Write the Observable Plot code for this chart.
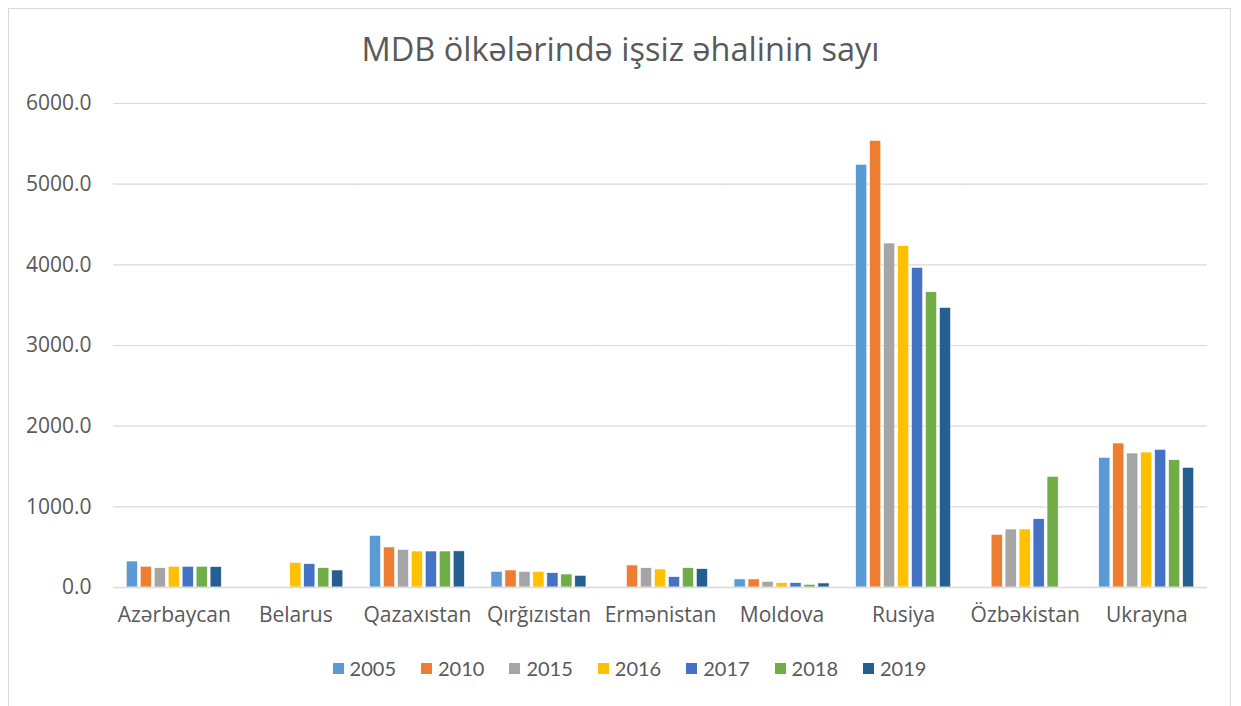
<!DOCTYPE html>
<html>
<head>
<meta charset="utf-8">
<script src="https://cdn.jsdelivr.net/npm/d3@7"></script>
<script src="https://cdn.jsdelivr.net/npm/@observablehq/plot@0.6"></script>
<style>
  html, body { margin: 0; padding: 0; background: #fff; width: 1241px; height: 706px; overflow: hidden; }
  #frame { position: absolute; left: 8px; top: 8px; width: 1223px; height: 720px; border: 1px solid #d9d9d9; box-sizing: border-box; }
  #title { position: absolute; left: 0; width: 1241px; top: 28px; line-height: 42px; text-align: center; font-family: "Open Sans", Lato, sans-serif; font-size: 32.5px; color: #595959; }
  #chart { position: absolute; left: 0; top: 80px; }
  #legend { position: absolute; left: 0; width: 1241px; top: 656px; display: flex; justify-content: center; gap: 25px; font-family: Lato, sans-serif; font-size: 20px; color: #595959; padding-left: 18px; box-sizing: border-box; }
  #legend .item { display: flex; align-items: center; gap: 6px; }
  #legend .sw { width: 11px; height: 11px; display: inline-block; }
</style>
</head>
<body>
<div id="frame"></div>
<div id="title">MDB ölkələrində işsiz əhalinin sayı</div>
<div id="chart"></div>
<div id="legend"></div>
<script>
const countries = ["Azərbaycan", "Belarus", "Qazaxıstan", "Qırğızıstan", "Ermənistan", "Moldova", "Rusiya", "Özbəkistan", "Ukrayna"];
const years = ["2005", "2010", "2015", "2016", "2017", "2018", "2019"];
const colors = ["#5B9BD5", "#ED7D31", "#A5A5A5", "#FFC000", "#4472C4", "#70AD47", "#255E91"];
// values per country, in the order of years (null = no data)
const v2005 = [322, null, 640, 194, null, 100, 5240, null, 1607];
const v2010 = [257, null, 496, 211, 273, 100, 5537, 653, 1785];
const v2015 = [240, null, 467, 194, 240, 70, 4264, 719, 1661];
const v2016 = [257, 306, 446, 194, 223, 54, 4231, 719, 1673];
const v2017 = [257, 289, 446, 178, 128, 54, 3962, 847, 1707];
const v2018 = [257, 240, 446, 161, 240, 33, 3660, 1372, 1578];
const v2019 = [253, 211, 448, 145, 228, 50, 3466, null, 1484];
const yTicks = [0, 1000, 2000, 3000, 4000, 5000, 6000];

const series = [v2005, v2010, v2015, v2016, v2017, v2018, v2019];
const data = [];
countries.forEach((c, i) => {
  years.forEach((y, j) => {
    const v = series[j][i];
    if (v != null) data.push({country: c, year: y, value: v});
  });
});

const chart = Plot.plot({
  width: 1241,
  height: 560,
  marginTop: 23,
  marginBottom: 53,
  marginLeft: 113,
  marginRight: 34,
  style: {fontFamily: "'Open Sans', sans-serif", fontSize: "21px", color: "#595959", background: "transparent"},
  fx: {domain: countries, padding: 0, label: null, axis: null, round: false},
  x: {domain: years, axis: null, paddingInner: 0.2, paddingOuter: 0.95, round: false},
  y: {domain: [0, 6000], ticks: yTicks, tickFormat: d3.format(".1f"), tickSize: 0, tickPadding: 22, label: null},
  color: {domain: years, range: colors},
  marks: [
    Plot.gridY(yTicks, {stroke: "#d9d9d9", strokeOpacity: 1, strokeWidth: 1.2}),
    Plot.barY(data, {fx: "country", x: "year", y: "value", fill: "year", stroke: "white", strokeWidth: 0.6}),
    Plot.ruleY([0], {stroke: "#d9d9d9", strokeWidth: 1.5}),
    Plot.axisFx({domain: countries, anchor: "bottom", tickSize: 0, tickPadding: 20, label: null, fontSize: 21})
  ]
});
document.getElementById("chart").appendChild(chart);

const legend = document.getElementById("legend");
years.forEach((y, j) => {
  const it = document.createElement("div");
  it.className = "item";
  const sw = document.createElement("span");
  sw.className = "sw";
  sw.style.background = colors[j];
  it.appendChild(sw);
  it.appendChild(document.createTextNode(y));
  legend.appendChild(it);
});
</script>
</body>
</html>
